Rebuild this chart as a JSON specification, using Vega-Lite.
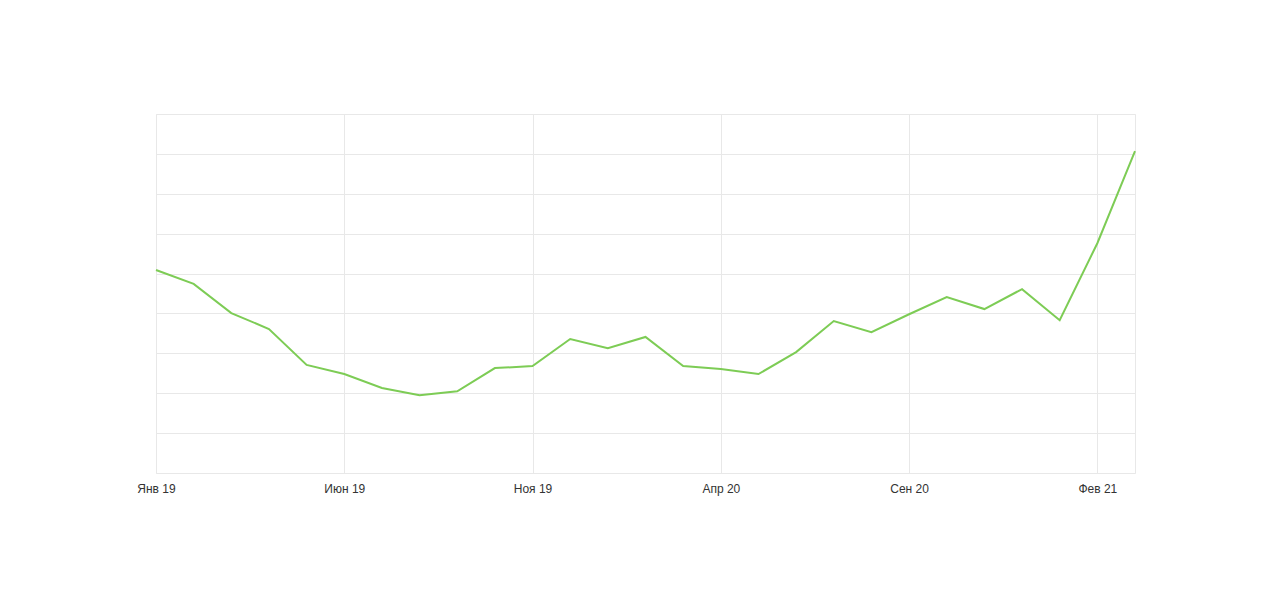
{
  "$schema": "https://vega.github.io/schema/vega-lite/v6.json",
  "width": 979,
  "height": 359,
  "autosize": "none",
  "padding": {"left": 156, "top": 114, "right": 145, "bottom": 127},
  "background": "#ffffff",
  "config": {
    "view": {"stroke": "#e8e8e8", "strokeWidth": 1},
    "font": "Liberation Sans"
  },
  "data": {
    "values": [
      {"month": "2019-01", "value": 5.09},
      {"month": "2019-02", "value": 4.74},
      {"month": "2019-03", "value": 4.01},
      {"month": "2019-04", "value": 3.61},
      {"month": "2019-05", "value": 2.71},
      {"month": "2019-06", "value": 2.48},
      {"month": "2019-07", "value": 2.13},
      {"month": "2019-08", "value": 1.95},
      {"month": "2019-09", "value": 2.05},
      {"month": "2019-10", "value": 2.63},
      {"month": "2019-11", "value": 2.68},
      {"month": "2019-12", "value": 3.36},
      {"month": "2020-01", "value": 3.13},
      {"month": "2020-02", "value": 3.41},
      {"month": "2020-03", "value": 2.68},
      {"month": "2020-04", "value": 2.61},
      {"month": "2020-05", "value": 2.48},
      {"month": "2020-06", "value": 3.03},
      {"month": "2020-07", "value": 3.81},
      {"month": "2020-08", "value": 3.53},
      {"month": "2020-09", "value": 3.98},
      {"month": "2020-10", "value": 4.41},
      {"month": "2020-11", "value": 4.11},
      {"month": "2020-12", "value": 4.61},
      {"month": "2021-01", "value": 3.83},
      {"month": "2021-02", "value": 5.76},
      {"month": "2021-03", "value": 8.07}
    ]
  },
  "mark": {"type": "line", "color": "#7dcc55", "strokeWidth": 2, "strokeJoin": "miter"},
  "encoding": {
    "x": {
      "field": "month",
      "type": "ordinal",
      "sort": null,
      "scale": {"type": "point", "padding": 0},
      "axis": {
        "title": null,
        "values": ["2019-01", "2019-06", "2019-11", "2020-04", "2020-09", "2021-02"],
        "labelExpr": "['Янв','Фев','Мар','Апр','Май','Июн','Июл','Авг','Сен','Окт','Ноя','Дек'][toNumber(substring(datum.value, 5, 7)) - 1] + ' ' + substring(datum.value, 2, 4)",
        "labelAngle": 0,
        "grid": true,
        "gridColor": "#e8e8e8",
        "gridWidth": 1,
        "domain": false,
        "ticks": false,
        "labelPadding": 10,
        "labelFontSize": 12,
        "labelColor": "#333333",
        "labelFlush": false
      }
    },
    "y": {
      "field": "value",
      "type": "quantitative",
      "scale": {"domain": [0, 9], "nice": false, "zero": false},
      "axis": {
        "title": null,
        "values": [0, 1, 2, 3, 4, 5, 6, 7, 8, 9],
        "labels": false,
        "ticks": false,
        "domain": false,
        "grid": true,
        "gridColor": "#e8e8e8",
        "gridWidth": 1
      }
    }
  }
}
